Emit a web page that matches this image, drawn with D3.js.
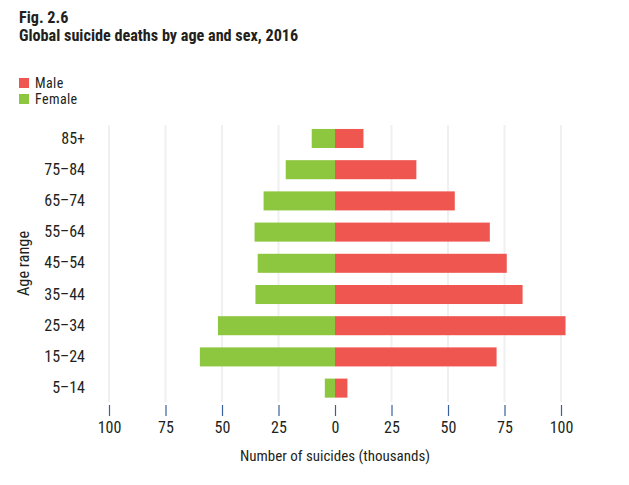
<!DOCTYPE html>
<html><head><meta charset="utf-8">
<script src="https://cdn.jsdelivr.net/npm/d3@7/dist/d3.min.js"></script>
<style>
body{margin:0;background:#fff;}
svg text{font-family:"Roboto Condensed","Liberation Sans Narrow","Arial Narrow",sans-serif;fill:#231f20;}
</style></head>
<body><svg id="c" width="629" height="485"></svg>
<script>
const ageGroups = ["85+","75–84","65–74","55–64","45–54","35–44","25–34","15–24","5–14"];
const maleValues = [12.6, 36, 53, 68.5, 76, 83, 102, 71.5, 5.5];
const femaleValues = [10.3, 21.8, 31.6, 35.6, 34.2, 35.2, 51.8, 59.8, 4.5];
const xTicks = [-100,-75,-50,-25,0,25,50,75,100];
const seriesNames = ["Male","Female"];
const colors = {Male:"#f05650", Female:"#8dc63f"};

const svg = d3.select("#c");
const x = d3.scaleLinear().domain([-100,100]).range([109,561]);
const y = d3.scaleBand().domain(ageGroups).range([116.8,409.8]).padding(0.39);

// title
svg.append("text").attr("x",19).attr("y",22.7).style("font-size","16.2px").style("font-weight","bold").text("Fig. 2.6");
svg.append("text").attr("x",19).attr("y",40.7).style("font-size","16.2px").style("font-weight","bold").text("Global suicide deaths by age and sex, 2016");

// legend
seriesNames.forEach((s,i)=>{
  svg.append("rect").attr("x",19).attr("y",78+i*16).attr("width",10).attr("height",10).attr("fill",colors[s]);
  svg.append("text").attr("x",35).attr("y",87.5+i*16.6).style("font-size","14px").style("letter-spacing","0.4px").text(s);
});

// gridlines
svg.append("g").selectAll("line").data(xTicks.filter(d=>d!==0)).join("line")
  .attr("x1",d=>x(d)).attr("x2",d=>x(d)).attr("y1",125).attr("y2",402)
  .attr("stroke","#f0f0f0").attr("stroke-width",2);

// bars
const rows = ageGroups.map((a,i)=>({age:a, male:maleValues[i], female:femaleValues[i]}));
svg.append("g").selectAll("rect").data(rows).join("rect")
  .attr("x",d=>x(-d.female)).attr("y",d=>y(d.age)).attr("width",d=>x(0)-x(-d.female)).attr("height",y.bandwidth())
  .attr("fill",colors.Female);
svg.append("g").selectAll("rect").data(rows).join("rect")
  .attr("x",x(0)).attr("y",d=>y(d.age)).attr("width",d=>x(d.male)-x(0)).attr("height",y.bandwidth())
  .attr("fill",colors.Male);

// x axis
const xAxis = d3.axisBottom(x).tickValues(xTicks).tickFormat(d=>Math.abs(d)).tickSize(11).tickPadding(6);
const gx = svg.append("g").attr("transform","translate(0,405)").call(xAxis);
gx.select(".domain").remove();
gx.selectAll(".tick line").attr("stroke","#3a5f9a").attr("stroke-width",1.2);
gx.selectAll(".tick text").style("font-size","16px").attr("fill","#231f20");

// y axis
const yAxis = d3.axisLeft(y).tickSize(0).tickPadding(0);
const gy = svg.append("g").attr("transform","translate(85,0)").call(yAxis);
gy.select(".domain").remove();
gy.selectAll(".tick text").style("font-size","16px").attr("fill","#231f20");

// axis titles
svg.append("text").attr("x",335).attr("y",461).attr("text-anchor","middle").style("font-size","15px").text("Number of suicides (thousands)");
svg.append("text").attr("transform","translate(29,263.5) rotate(-90)").attr("text-anchor","middle").style("font-size","16.4px").text("Age range");
</script></body></html>
